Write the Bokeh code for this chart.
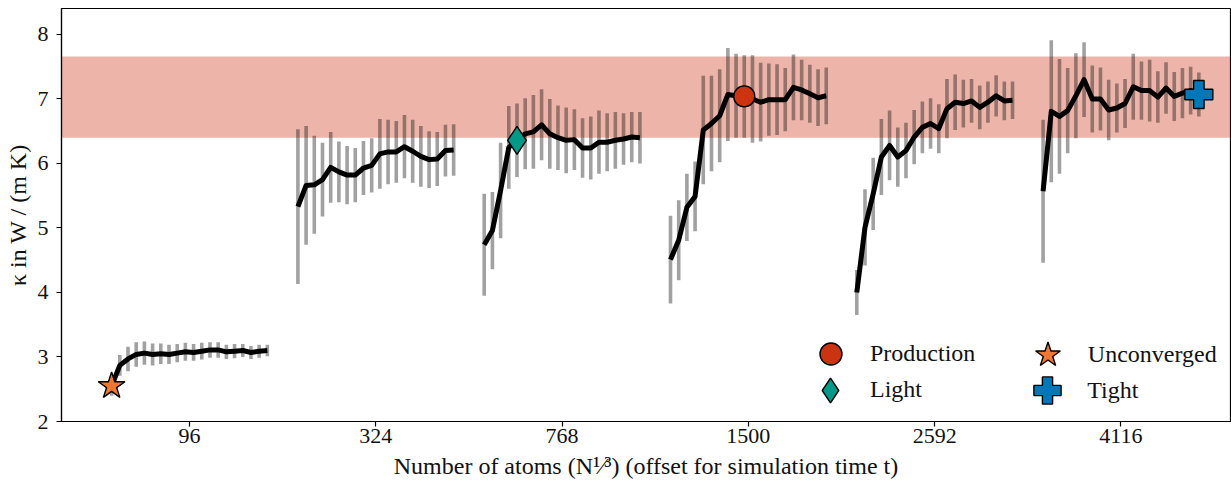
import numpy as np
from bokeh.plotting import figure
from bokeh.models import ColumnDataSource, BoxAnnotation, FixedTicker, Legend, LegendItem, Range1d
from bokeh.embed import file_html
from bokeh.resources import INLINE

# ---------------- data ----------------
atom_labels = ["96", "324", "768", "1500", "2592", "4116"]

kappa_96 = [2.55, 2.87, 2.97, 3.04, 3.06, 3.04, 3.05, 3.04, 3.06, 3.08,
            3.07, 3.09, 3.11, 3.11, 3.08, 3.09, 3.10, 3.07, 3.09, 3.10]
err_96 = [0.15, 0.16, 0.19, 0.19, 0.18, 0.17, 0.16, 0.15, 0.14, 0.14,
          0.13, 0.13, 0.12, 0.12, 0.11, 0.11, 0.10, 0.10, 0.10, 0.09]

kappa_324 = [5.33, 5.66, 5.67, 5.75, 5.94, 5.87, 5.82, 5.82, 5.93, 5.97,
             6.15, 6.18, 6.18, 6.26, 6.19, 6.11, 6.06, 6.07, 6.20, 6.21]
err_324 = [1.20, 0.92, 0.76, 0.57, 0.55, 0.47, 0.45, 0.42, 0.42, 0.42,
           0.54, 0.50, 0.48, 0.49, 0.49, 0.47, 0.44, 0.42, 0.40, 0.40]

kappa_768 = [4.74, 4.96, 5.58, 6.25, 6.36, 6.46, 6.49, 6.60, 6.46, 6.40,
             6.36, 6.37, 6.24, 6.24, 6.33, 6.33, 6.36, 6.38, 6.41, 6.40]
err_768 = [0.79, 0.60, 0.74, 0.64, 0.57, 0.55, 0.57, 0.55, 0.54, 0.50,
           0.51, 0.47, 0.46, 0.49, 0.49, 0.45, 0.44, 0.40, 0.39, 0.40]

kappa_1500 = [4.51, 4.81, 5.32, 5.49, 6.52, 6.62, 6.74, 7.07, 7.05, 7.04,
              7.00, 6.95, 6.99, 6.99, 6.99, 7.18, 7.14, 7.08, 7.02, 7.05]
err_1500 = [0.68, 0.62, 0.52, 0.54, 0.84, 0.74, 0.72, 0.72, 0.65, 0.64,
            0.68, 0.61, 0.56, 0.55, 0.49, 0.51, 0.47, 0.45, 0.44, 0.44]

kappa_2592 = [4.00, 5.01, 5.53, 6.10, 6.28, 6.10, 6.20, 6.41, 6.56, 6.62,
              6.54, 6.85, 6.95, 6.93, 6.97, 6.87, 6.95, 7.05, 6.97, 6.98]
err_2592 = [0.35, 0.59, 0.56, 0.59, 0.54, 0.46, 0.43, 0.42, 0.40, 0.39,
            0.38, 0.46, 0.43, 0.37, 0.34, 0.34, 0.32, 0.32, 0.30, 0.29]

kappa_4116 = [5.57, 6.81, 6.73, 6.82, 7.05, 7.30, 7.00, 7.00, 6.83, 6.86,
              6.93, 7.19, 7.13, 7.13, 7.03, 7.17, 7.04, 7.09, 7.13, 7.07]
err_4116 = [1.11, 1.10, 0.89, 0.66, 0.66, 0.58, 0.52, 0.49, 0.47, 0.38,
            0.38, 0.51, 0.45, 0.48, 0.40, 0.40, 0.38, 0.39, 0.37, 0.34]

band_kappa = [6.40, 7.66]

highlight_names = ["Production", "Light", "Unconverged", "Tight"]
highlight_group = [3, 2, 0, 5]
highlight_index = [9, 4, 0, 19]

# ---------------- styling ----------------
FONT = "Liberation Serif"
marker_style = {
    "Production": dict(marker="circle", color="#CC3311", size=21),
    "Light": dict(marker="diamond", color="#009988", size=28),
    "Unconverged": dict(marker="star", color="#EE7733", size=28),
    "Tight": dict(marker="plus", color="#0077BB", size=28),
}
# legend glyph box, centre on page, text start on page
legend_layout = {
    "Production": (55, 830.5, 353.5, 870.0),
    "Light": (62, 830.0, 389.5, 870.0),
    "Unconverged": (65, 1047.3, 354.0, 1087.3),
    "Tight": (68, 1047.3, 390.0, 1087.3),
}
FRAME_LEFT_PAGE = 61
FRAME_BOTTOM_PAGE = 421

step = 0.044  # spacing of time points in axis units

groups = [(kappa_96, err_96), (kappa_324, err_324), (kappa_768, err_768),
          (kappa_1500, err_1500), (kappa_2592, err_2592), (kappa_4116, err_4116)]

p = figure(width=1231, height=481, output_backend="svg", toolbar_location=None,
           x_range=Range1d(-0.687, 5.588), y_range=Range1d(2.0, 8.403),
           min_border_left=61, min_border_right=1, min_border_top=8, min_border_bottom=60)
p.background_fill_color = "white"
p.border_fill_color = "white"
p.outline_line_color = "black"
p.outline_line_width = 1.2
p.xgrid.visible = False
p.ygrid.visible = False

band = BoxAnnotation(bottom=band_kappa[0], top=band_kappa[1], fill_color="#CC3311",
                     fill_alpha=0.36, line_color=None, level="underlay")
p.add_layout(band)

sources = []
for gi, (k, e) in enumerate(groups):
    k = np.array(k)
    e = np.array(e)
    x = gi + (np.arange(len(k)) - (len(k) - 1) / 2.0) * step
    src = ColumnDataSource(dict(x=x, y=k, lo=k - e, hi=k + e))
    sources.append(src)
    p.segment(x0="x", y0="lo", x1="x", y1="hi", source=src, line_color="black",
              line_alpha=0.37, line_width=3.6)
for src in sources:
    p.line(x="x", y="y", source=src, line_color="black", line_width=5, line_join="round")

renderers = {}
for name, gi, idx in zip(highlight_names, highlight_group, highlight_index):
    st = marker_style[name]
    src = sources[gi]
    hx = [src.data["x"][idx]]
    hy = [src.data["y"][idx]]
    r = p.scatter(x=hx, y=hy, marker=st["marker"], size=st["size"], fill_color=st["color"],
                  line_color="black", line_width=1.4)
    renderers[name] = r

for name in highlight_names:
    G, cx, cy, tx = legend_layout[name]
    vx = cx - FRAME_LEFT_PAGE - G / 2.0
    vy = (FRAME_BOTTOM_PAGE - cy) - G / 2.0
    leg = Legend(items=[LegendItem(label=name, renderers=[renderers[name]])],
                 location=(vx, vy), glyph_width=G, glyph_height=G,
                 label_standoff=int(round(tx - (cx + G / 2.0))), padding=0, margin=0,
                 border_line_alpha=0, background_fill_alpha=0,
                 label_text_font=FONT, label_text_font_size="24px",
                 label_text_color="#111111")
    p.add_layout(leg)

# axes
p.xaxis.ticker = FixedTicker(ticks=list(range(len(atom_labels))))
p.xaxis.major_label_overrides = {i: lbl for i, lbl in enumerate(atom_labels)}
p.yaxis.ticker = FixedTicker(ticks=[2, 3, 4, 5, 6, 7, 8])
p.xaxis.axis_label = "Number of atoms (N\u00b9\u2044\u00b3) (offset for simulation time t)"
p.yaxis.axis_label = "\u03ba in W / (m K)"
for ax in (p.xaxis, p.yaxis):
    ax.axis_label_text_font = FONT
    ax.axis_label_text_font_style = "normal"
    ax.axis_label_text_font_size = "24px"
    ax.axis_label_text_color = "#111111"
    ax.major_label_text_font = FONT
    ax.major_label_text_font_size = "22px"
    ax.major_label_text_color = "#111111"
    ax.axis_line_color = "black"
    ax.axis_line_width = 1.2
    ax.major_tick_line_color = "black"
    ax.major_tick_line_width = 1.2
    ax.major_tick_out = 5
    ax.major_tick_in = 0
    ax.minor_tick_line_color = None
p.xaxis.major_label_standoff = 2
p.xaxis.axis_label_standoff = 7
p.yaxis.major_label_standoff = 8
p.yaxis.axis_label_standoff = 4

open("out.html", "w").write(file_html(p, INLINE))
